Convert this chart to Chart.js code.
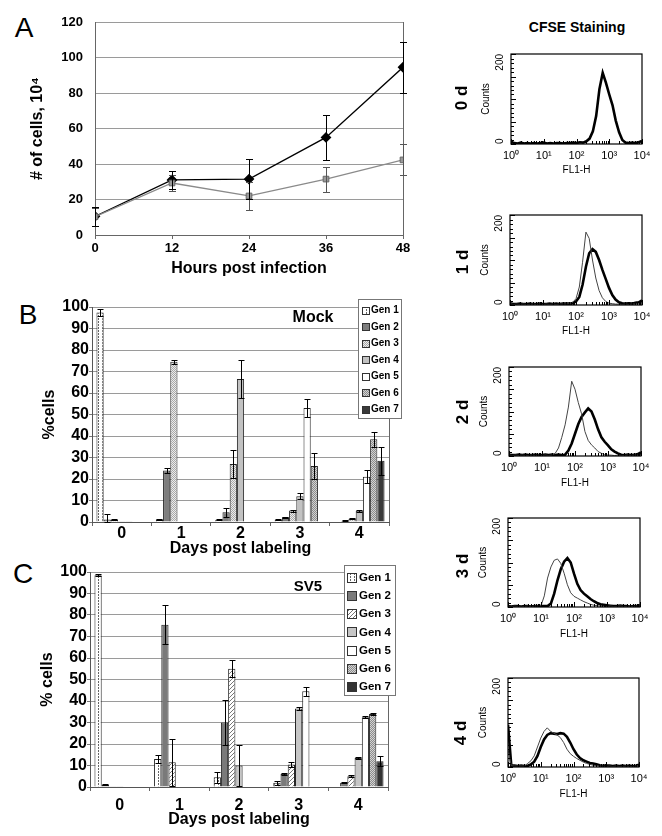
<!DOCTYPE html>
<html><head><meta charset="utf-8">
<script src="https://cdn.jsdelivr.net/npm/chart.js@4.4.1/dist/chart.umd.min.js"></script>
<style>
html,body{margin:0;padding:0;background:#fff}
body{position:relative;width:662px;height:836px;overflow:hidden;font-family:"Liberation Sans",Arial,sans-serif;color:#000}
canvas{position:absolute;display:block}
.t{position:absolute;white-space:nowrap;line-height:1;transform:translate(-50%,-50%)}
.r{transform:translate(-50%,-50%) rotate(-90deg)}
</style></head><body>
<div class="t" style="left:24px;top:28px;font-size:28px">A</div>
<div class="t" style="left:28px;top:315px;font-size:28px">B</div>
<div class="t" style="left:23px;top:574px;font-size:28px">C</div>
<div class="t" style="left:577px;top:27px;font-size:14px;font-weight:bold">CFSE Staining</div>
<canvas id="cA" width="440" height="285" style="left:0;top:0"></canvas>
<canvas id="cB" width="440" height="290" style="left:0;top:270px"></canvas>
<canvas id="cC" width="440" height="281" style="left:0;top:555px"></canvas>
<canvas id="h0" width="222" height="140" style="left:440px;top:40px"></canvas>
<canvas id="h1" width="222" height="140" style="left:440px;top:201px"></canvas>
<canvas id="h2" width="222" height="140" style="left:440px;top:353px"></canvas>
<canvas id="h3" width="222" height="140" style="left:440px;top:504px"></canvas>
<canvas id="h4" width="222" height="140" style="left:440px;top:664px"></canvas>
<script>
// ---------- Panel A data ----------
const hours = [0, 12, 24, 36, 48];
const cellsBlack = [10.5, 31, 31.5, 55, 94.5];
const cellsBlackErr = [5.5, 5.3, 11.4, 12.8, 14.3];
const cellsGray = [10.3, 29.3, 22, 31.5, 42.3];
const cellsGrayErr = [5, 4.5, 8, 7, 8.7];

// ---------- Panels B / C data ----------
const days = ['0', '1', '2', '3', '4'];
const genNames = ['Gen 1', 'Gen 2', 'Gen 3', 'Gen 4', 'Gen 5', 'Gen 6', 'Gen 7'];
const mockGen1 = [97.5, 1.2, 1.0, 1.0, 0.2];
const mockGen2 = [1.2, 24, 4.5, 2.2, 0.5];
const mockGen3 = [1.0, 74.5, 27, 5.3, 1.5];
const mockGen4 = [0.3, 0.2, 66.5, 12, 5.2];
const mockGen5 = [0.3, 0, 0, 53, 21];
const mockGen6 = [0.2, 0, 0, 26, 38.5];
const mockGen7 = [0.2, 0, 0, 0, 28.5];
const mockErr1 = [1.5, 0.3, 0.2, 0.3, 0];
const mockErr2 = [2.3, 1, 2, 0.3, 0.2];
const mockErr3 = [0.3, 0.8, 6.5, 0.5, 0.3];
const mockErr4 = [0, 0, 9, 1.5, 0.5];
const mockErr5 = [0, 0, 0, 4, 3];
const mockErr6 = [0, 0, 0, 6, 3.5];
const mockErr7 = [0, 0, 0, 0, 6.5];
const sv5Gen1 = [98.5, 13, 4.5, 2, 0.2];
const sv5Gen2 = [1.0, 75.5, 30, 6, 2];
const sv5Gen3 = [0.3, 11.5, 55, 10.5, 5];
const sv5Gen4 = [0.3, 0.2, 10, 36.5, 13.5];
const sv5Gen5 = [0, 0.2, 0.2, 44.5, 32.5];
const sv5Gen6 = [0, 0, 0, 0, 34];
const sv5Gen7 = [0, 0, 0, 0, 12];
const sv5Err1 = [0.5, 2, 2.5, 1, 0];
const sv5Err2 = [0.3, 9, 10.5, 0.3, 0.3];
const sv5Err3 = [0, 11, 4, 1.2, 0.5];
const sv5Err4 = [0, 0, 9.5, 0.5, 0.3];
const sv5Err5 = [0, 0, 0, 2, 0.3];
const sv5Err6 = [0, 0, 0, 0, 0.5];
const sv5Err7 = [0, 0, 0, 0, 2.3];

// ---------- CFSE histograms (FL1-H channel, counts) ----------
const dayNames = ['0 d', '1 d', '2 d', '3 d', '4 d'];
const fl1 = [1, 1.26, 1.58, 2, 2.51, 3.16, 3.98, 5.01, 6.31, 7.94,
  10, 12.6, 15.8, 20, 25.1, 31.6, 39.8, 50.1, 63.1, 79.4,
  100, 126, 158, 200, 251, 316, 398, 501, 631, 794,
  1000, 1260, 1580, 2000, 2510, 3160, 3980, 5010, 6310, 7940, 10000];
const d0Thick = [5,2,1,3,1,2,1,2,1,2, 3,1,2,1,2,2,1,2,2,3, 2,4,3,6,12,28,62,122,158,136, 110,86,52,26,9,3,2,3,2,4, 7];
const d1Thin  = [3,1,2,1,2,1,1,2,1,2, 1,2,1,2,1,2,2,2,3,6, 14,40,95,162,148,100,60,32,16,8, 4,3,2,2,1,2,1,2,2,3, 5];
const d1Thick = [4,2,2,3,2,2,3,2,2,3, 2,2,3,2,3,2,3,3,3,4, 8,18,45,85,115,124,118,100,78,58, 38,22,12,6,4,3,4,3,5,6, 10];
const d2Thin  = [2,1,2,1,2,1,1,2,1,2, 1,2,1,2,6,18,42,70,110,168, 150,120,95,55,35,25,18,10,6,3, 2,2,1,2,1,1,2,1,2,2, 4];
const d2Thick = [3,2,2,3,2,3,2,2,3,2, 2,3,2,3,2,3,2,3,12,28, 50,72,88,98,107,100,82,60,42,32, 24,15,10,6,3,2,3,2,3,4, 8];
const d3Thin  = [2,1,2,1,2,1,2,1,2,2, 3,25,65,90,105,108,98,76,50,32, 24,20,16,12,9,6,4,3,2,2, 1,2,1,1,2,1,1,2,1,2, 3];
const d3Thick = [2,1,2,2,1,2,2,1,2,2, 2,2,2,8,30,60,85,102,110,100, 75,52,38,30,24,18,13,9,6,5, 4,3,2,2,3,2,2,1,2,2, 4];
const d4Thin  = [40,3,2,2,2,2,8,14,25,45, 65,80,88,80,76,72,66,55,40,30, 24,19,15,11,8,6,4,3,2,2, 1,2,1,2,1,1,2,1,1,2, 3];
const d4Thick = [95,3,3,2,3,2,3,6,12,25, 45,62,72,76,75,74,76,75,68,55, 40,28,20,15,12,9,8,6,4,3, 3,3,2,3,2,3,2,3,2,3, 5];
const supDigits = ['\u2070', '\u00B9', '\u00B2', '\u00B3', '\u2074'];

// ---------- setup ----------
const FONT = '"Liberation Sans", Arial, sans-serif';
Chart.defaults.font.family = FONT;
Chart.defaults.color = '#000';
Chart.defaults.animation = false;

const errorBars = {
  id: 'errorBars',
  afterDatasetsDraw(chart, args, o) {
    const ctx = chart.ctx, ys = chart.scales.y;
    const cap = (o && o.cap) || 3;
    ctx.save();
    ctx.lineWidth = 1;
    chart.data.datasets.forEach((ds, i) => {
      if (!ds.errors) return;
      const meta = chart.getDatasetMeta(i);
      meta.data.forEach((el, j) => {
        const e = ds.errors[j];
        if (!e) return;
        const raw = ds.data[j];
        const v = typeof raw === 'object' ? raw.y : raw;
        const top = Math.round(ys.getPixelForValue(v + e)) + 0.5;
        const bot = Math.round(ys.getPixelForValue(Math.max(0, v - e))) + 0.5;
        const x = Math.round(el.x) + 0.5;
        ctx.strokeStyle = ds.errorColor || '#000';
        ctx.beginPath();
        ctx.moveTo(x, top); ctx.lineTo(x, bot);
        ctx.moveTo(x - cap, top); ctx.lineTo(x + cap, top);
        ctx.moveTo(x - cap, bot); ctx.lineTo(x + cap, bot);
        ctx.stroke();
      });
    });
    ctx.restore();
  }
};

const genLegend = {
  id: 'genLegend',
  afterDraw(chart, args, o) {
    if (!o || !o.w) return;
    const ctx = chart.ctx;
    ctx.save();
    ctx.fillStyle = '#000';
    ctx.font = o.tagFont;
    ctx.textAlign = 'center'; ctx.textBaseline = 'middle';
    ctx.fillText(o.tag, o.tagX, o.tagY);
    ctx.fillStyle = '#fff';
    ctx.fillRect(o.x, o.y, o.w, o.h);
    ctx.strokeStyle = '#777'; ctx.lineWidth = 1;
    ctx.strokeRect(o.x + 0.5, o.y + 0.5, o.w, o.h);
    chart.data.datasets.forEach((ds, i) => {
      const cy = o.y0 + i * o.rowH;
      const sy = Math.round(cy - o.sw / 2) + 0.5;
      ctx.fillStyle = ds.backgroundColor;
      ctx.fillRect(o.sx + 0.5, sy, o.sw, o.sw);
      ctx.strokeStyle = '#333';
      ctx.strokeRect(o.sx + 0.5, sy, o.sw, o.sw);
      ctx.fillStyle = '#000';
      ctx.font = o.font;
      ctx.textAlign = 'left';
      ctx.fillText(ds.label, o.tx, cy + 0.5);
    });
    ctx.restore();
  }
};

function pat(w, h, draw) {
  const c = document.createElement('canvas');
  c.width = w; c.height = h;
  const g = c.getContext('2d');
  draw(g);
  return g.createPattern(c, 'repeat');
}
const pGen1 = pat(4, 3, g => { g.fillStyle = '#fff'; g.fillRect(0, 0, 4, 3); g.fillStyle = '#666'; g.fillRect(2, 0, 1, 2); });
const pDots = pat(2, 2, g => { g.fillStyle = '#ececec'; g.fillRect(0, 0, 2, 2); g.fillStyle = '#a8a8a8'; g.fillRect(0, 0, 1, 1); g.fillRect(1, 1, 1, 1); });
const pDiag = pat(4, 4, g => { g.fillStyle = '#fff'; g.fillRect(0, 0, 4, 4); g.fillStyle = '#777'; g.fillRect(0, 3, 1, 1); g.fillRect(1, 2, 1, 1); g.fillRect(2, 1, 1, 1); g.fillRect(3, 0, 1, 1); });
const pGen6 = pat(2, 2, g => { g.fillStyle = '#d2d2d2'; g.fillRect(0, 0, 2, 2); g.fillStyle = '#8c8c8c'; g.fillRect(0, 0, 1, 1); g.fillRect(1, 1, 1, 1); });
const fillsB = [pGen1, '#7e7e7e', pDots, '#c2c2c2', '#ffffff', pGen6, '#3a3a3a'];
const fillsC = [pGen1, '#7a7a7a', pDiag, '#c6c6c6', '#ffffff', pGen6, '#333333'];

// ---------- Panel A ----------
new Chart(document.getElementById('cA'), {
  type: 'line',
  data: {
    datasets: [
      { label: 'gray', data: hours.map((h, i) => ({ x: h, y: cellsGray[i] })), errors: cellsGrayErr, errorColor: '#555',
        borderColor: '#8a8a8a', borderWidth: 1.3, pointStyle: 'rect', pointRadius: 4, pointBackgroundColor: '#9a9a9a', pointBorderColor: '#666', pointBorderWidth: 1, tension: 0 },
      { label: 'black', data: hours.map((h, i) => ({ x: h, y: cellsBlack[i] })), errors: cellsBlackErr, errorColor: '#000',
        borderColor: '#000', borderWidth: 1.3, pointStyle: 'rectRot', pointRadius: 4.5, pointBackgroundColor: '#000', pointBorderColor: '#000', tension: 0 }
    ]
  },
  options: {
    responsive: false, animation: false,
    layout: { padding: { top: 22, right: 37, left: 0, bottom: 0 } },
    plugins: { legend: { display: false }, tooltip: { enabled: false }, errorBars: { cap: 3.5 } },
    scales: {
      x: { type: 'linear', min: 0, max: 48,
        ticks: { stepSize: 12, autoSkip: false, font: { size: 13, weight: 'bold' }, padding: 2 },
        grid: { color: c => (c.tick && c.tick.value === 48) ? '#666' : 'rgba(0,0,0,0)', tickColor: '#666', tickLength: 4 },
        border: { color: '#666' },
        title: { display: true, text: 'Hours post infection', font: { size: 16, weight: 'bold' }, padding: { top: 0, bottom: 7 } },
        afterFit: s => { s.height = 50; } },
      y: { min: 0, max: 120,
        ticks: { stepSize: 20, autoSkip: false, font: { size: 13, weight: 'bold' }, padding: 12 },
        grid: { color: '#9a9a9a', drawTicks: false },
        border: { color: '#666' },
        title: { display: true, text: '# of cells, 10\u2074', font: { size: 16, weight: 'bold' }, padding: { top: 28, bottom: 0 } },
        afterFit: s => { s.width = 95; } }
    }
  },
  plugins: [errorBars]
});

// ---------- Panels B / C ----------
function barChart(id, series, errs, fills, geom, leg) {
  new Chart(document.getElementById(id), {
    type: 'bar',
    data: {
      labels: days,
      datasets: genNames.map((n, i) => ({
        label: n, data: series[i], errors: errs[i], backgroundColor: fills[i],
        borderColor: '#222', borderWidth: 1, categoryPercentage: 0.85, barPercentage: 1
      }))
    },
    options: {
      responsive: false, animation: false,
      layout: { padding: { top: geom.top, right: geom.right, left: 0, bottom: 0 } },
      plugins: { legend: { display: false }, tooltip: { enabled: false }, errorBars: { cap: 3 }, genLegend: leg },
      scales: {
        x: { ticks: { font: { size: 16, weight: 'bold' }, padding: geom.xpad },
          grid: { color: c => c.tick ? 'rgba(0,0,0,0)' : '#666', tickColor: '#666', tickLength: 4 },
          border: { color: '#555' },
          title: { display: true, text: 'Days post labeling', font: { size: 16, weight: 'bold' }, padding: { top: 0, bottom: geom.xtpad } },
          afterFit: s => { s.height = geom.xh; } },
        y: { min: 0, max: 100,
          ticks: { stepSize: 10, autoSkip: false, font: { size: 16, weight: 'bold' }, padding: 0 },
          grid: { color: '#9a9a9a', tickColor: '#777', tickLength: 3 },
          border: { color: '#555' },
          title: { display: true, text: geom.ytitle, font: { size: 16, weight: 'bold' }, padding: { top: geom.ytpad, bottom: 0 } },
          afterFit: s => { s.width = geom.left; } }
      }
    },
    plugins: [errorBars, genLegend]
  });
}
barChart('cB',
  [mockGen1, mockGen2, mockGen3, mockGen4, mockGen5, mockGen6, mockGen7],
  [mockErr1, mockErr2, mockErr3, mockErr4, mockErr5, mockErr6, mockErr7], fillsB,
  { top: 37, right: 51, left: 92, xh: 38, xpad: -2, xtpad: 2, ytitle: '%cells', ytpad: 40 },
  { x: 358, y: 29, w: 43, h: 119, y0: 40, rowH: 16.5, sx: 362, sw: 7, tx: 371, font: 'bold 10px ' + FONT,
    tag: 'Mock', tagX: 313, tagY: 48, tagFont: 'bold 16px ' + FONT });
barChart('cC',
  [sv5Gen1, sv5Gen2, sv5Gen3, sv5Gen4, sv5Gen5, sv5Gen6, sv5Gen7],
  [sv5Err1, sv5Err2, sv5Err3, sv5Err4, sv5Err5, sv5Err6, sv5Err7], fillsC,
  { top: 17, right: 52, left: 90, xh: 49, xpad: 5, xtpad: 7, ytitle: '% cells', ytpad: 38 },
  { x: 344, y: 10, w: 51, h: 130, y0: 22, rowH: 18.3, sx: 347, sw: 9, tx: 359, font: 'bold 11.5px ' + FONT,
    tag: 'SV5', tagX: 308, tagY: 32, tagFont: 'bold 15px ' + FONT });

// ---------- CFSE histograms ----------
const histFrame = {
  id: 'histFrame',
  afterDraw(chart) {
    const { ctx, chartArea: a, scales: { x, y } } = chart;
    ctx.save();
    ctx.strokeStyle = '#000';
    ctx.lineWidth = 1.2;
    ctx.strokeRect(a.left, a.top, a.right - a.left, a.bottom - a.top);
    ctx.lineWidth = 1;
    ctx.beginPath();
    y.ticks.forEach(t => {
      const py = Math.round(y.getPixelForValue(t.value)) + 0.5;
      const len = t.value % 50 === 0 ? 5 : 3;
      ctx.moveTo(a.left, py); ctx.lineTo(a.left + len, py);
    });
    x.ticks.forEach(t => {
      const v = t.value;
      const e = Math.floor(Math.log10(v) + 1e-9);
      const s = v / Math.pow(10, e);
      if (Math.abs(s - Math.round(s)) > 1e-6) return;
      const px = Math.round(x.getPixelForValue(v)) + 0.5;
      const len = Math.round(s) === 1 ? 5 : 3;
      ctx.moveTo(px, a.bottom); ctx.lineTo(px, a.bottom - len);
    });
    ctx.stroke();
    ctx.font = '10px ' + FONT;
    ctx.fillStyle = '#000';
    ctx.textBaseline = 'middle';
    y.ticks.filter(t => t.value === y.min || t.value === y.max).forEach(t => {
      ctx.save();
      ctx.translate(a.left - 11, y.getPixelForValue(t.value));
      ctx.rotate(-Math.PI / 2);
      ctx.textAlign = t.value === y.min ? 'left' : 'right';
      ctx.fillText(String(t.value), 0, 0);
      ctx.restore();
    });
    ctx.restore();
  }
};

function hist(id, plotLeft, plotRight, plotH, thin, thick) {
  const ds = [];
  if (thin) ds.push({ data: fl1.map((v, i) => ({ x: v, y: thin[i] })), borderColor: '#444', borderWidth: 1, pointRadius: 0, tension: 0 });
  ds.push({ data: fl1.map((v, i) => ({ x: v, y: thick[i] })), borderColor: '#000', borderWidth: 2.6, pointRadius: 0, tension: 0 });
  const yw = plotLeft - 440;
  new Chart(document.getElementById(id), {
    type: 'line',
    data: { datasets: ds },
    options: {
      responsive: false, animation: false,
      layout: { padding: { top: 14, right: 662 - plotRight, left: 0, bottom: 0 } },
      plugins: { legend: { display: false }, tooltip: { enabled: false } },
      scales: {
        x: { type: 'logarithmic', min: 1, max: 10000,
          grid: { display: false, drawTicks: false }, border: { display: false },
          ticks: { autoSkip: false, maxRotation: 0, minRotation: 0, padding: 5, font: { size: 11 },
            callback: v => { const l = Math.log10(v); const r = Math.round(l); return Math.abs(l - r) < 1e-6 ? '10' + supDigits[r] : ''; } },
          title: { display: true, text: 'FL1-H', font: { size: 10 }, padding: { top: 0, bottom: 4 } },
          afterFit: s => { s.height = 140 - 14 - plotH; } },
        y: { min: 0, max: 200,
          ticks: { display: false, stepSize: 10 },
          grid: { display: false, drawTicks: false }, border: { display: false },
          title: { display: true, text: 'Counts', font: { size: 10 }, padding: { top: yw - 31, bottom: 0 } },
          afterFit: s => { s.width = yw; } }
      }
    },
    plugins: [histFrame]
  });
}
hist('h0', 511, 642, 90, null, d0Thick);
hist('h1', 510, 642, 90, d1Thin, d1Thick);
hist('h2', 509, 641, 89, d2Thin, d2Thick);
hist('h3', 508, 640, 89, d3Thin, d3Thick);
hist('h4', 508, 639, 89, d4Thin, d4Thick);

// day labels
const dayPos = [[461, 98], [462, 262], [462, 412], [462, 566], [460, 733]];
dayNames.forEach((n, i) => {
  const d = document.createElement('div');
  d.className = 't r';
  d.style.left = dayPos[i][0] + 'px';
  d.style.top = dayPos[i][1] + 'px';
  d.style.fontSize = '17px';
  d.style.fontWeight = 'bold';
  d.textContent = n;
  document.body.appendChild(d);
});
</script>
</body></html>
